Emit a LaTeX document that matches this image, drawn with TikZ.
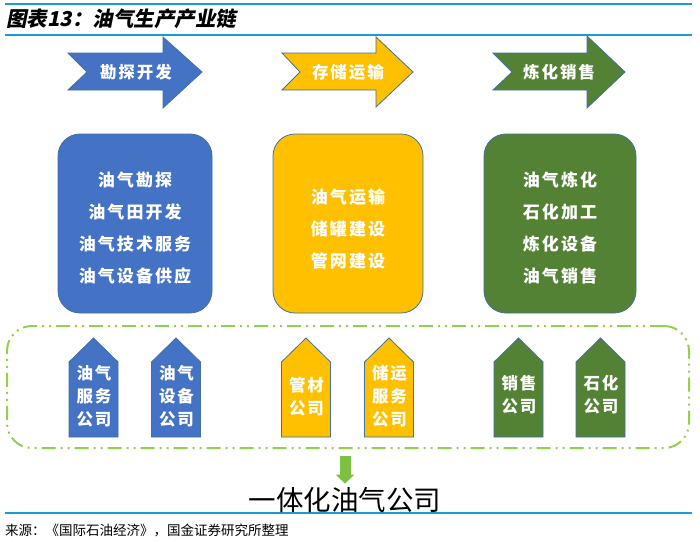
\documentclass[tikz,border=0pt]{standalone}
\usepackage{fontspec}
\newfontfamily\cjk{Noto Sans CJK SC}
\newfontfamily\cjkit{Noto Sans CJK SC}[FakeSlant=0.2]
\newfontfamily\cjkwide{Noto Sans CJK SC}[LetterSpace=12]
\usetikzlibrary{arrows.meta}
\definecolor{cblue}{HTML}{4472C4}
\definecolor{cyellow}{HTML}{FFC000}
\definecolor{cgreen}{HTML}{548235}
\definecolor{cgroup}{HTML}{92D050}
\definecolor{cdown}{HTML}{7DC142}
\definecolor{ctitle}{HTML}{1B9BD7}
\definecolor{cedge}{HTML}{41719C}
\tikzset{
  titleline/.style={draw=ctitle, line width=2pt},
  shapeedge/.style={draw=cedge, line width=0.8pt},
  arrowtext/.style={text=white, font=\cjkwide\bfseries\fontsize{16.5}{18}\selectfont, inner sep=0pt},
  boxshape/.style={shapeedge, rectangle, rounded corners=22pt, inner sep=0pt},
  boxtext/.style={text=white, align=center, font=\cjkwide\bfseries\fontsize{17}{32}\selectfont, inner sep=0pt},
  tagtext/.style={text=white, align=center, font=\cjkwide\bfseries\fontsize{16.5}{23}\selectfont, inner sep=0pt},
  groupbox/.style={draw=cgroup, line width=2pt, rounded corners=25pt, inner sep=0pt,
    dash pattern=on 14pt off 5pt on 2pt off 5pt on 2pt off 5pt},
}
\begin{document}
\begin{tikzpicture}[x=1pt,y=-1pt]
\useasboundingbox[fill=white] (0,0) rectangle (700,541);

% title and rules
\draw[titleline] (5,4) -- (692,4);
\draw[titleline] (5,35) -- (692,35);
\draw[titleline] (5,513) -- (692,513);
\node[anchor=west, inner sep=0pt, font=\cjkit\bfseries\fontsize{20.5}{22}\selectfont] (title) at (6,19) {图表13：油气生产产业链};
\node[anchor=west, inner sep=0pt, font=\cjk\fontsize{13.5}{15}\selectfont] (src) at (5,530) {来源：《国际石油经济》，国金证券研究所整理};

% stage arrows
\draw[shapeedge, fill=cblue] (68,53) -- (163,53) -- (163,37) -- (202,72) -- (163,108) -- (163,90) -- (68,90) -- (87,72) -- cycle;
\node[arrowtext] (a1) at (136,72) {勘探开发};
\draw[shapeedge, fill=cyellow] (282,53) -- (376,53) -- (376,37) -- (413,72) -- (376,107) -- (376,90) -- (282,90) -- (300,72) -- cycle;
\node[arrowtext] (a2) at (348,72) {存储运输};
\draw[shapeedge, fill=cgreen] (493,53) -- (587,53) -- (587,36) -- (625,72) -- (587,108) -- (587,90) -- (493,90) -- (512,72) -- cycle;
\node[arrowtext] (a3) at (559,72) {炼化销售};

% rounded boxes
\node[boxshape, fill=cblue, minimum width=154pt, minimum height=179pt] (b1) at (135,223.5) {};
\node[boxtext] (t1) at (135,228.5) {油气勘探\\油气田开发\\油气技术服务\\油气设备供应};
\node[boxshape, fill=cyellow, minimum width=150pt, minimum height=179pt] (b2) at (348,223.5) {};
\node[boxtext] (t2) at (348,228.5) {油气运输\\储罐建设\\管网建设};
\node[boxshape, fill=cgreen, minimum width=152pt, minimum height=179pt] (b3) at (560,223.5) {};
\node[boxtext] (t3) at (560,228.5) {油气炼化\\石化加工\\炼化设备\\油气销售};

% group box
\node[groupbox, minimum width=682pt, minimum height=122pt] (grp) at (348,387) {};

% company tags
\foreach \cx/\col in {93.5/cblue, 176/cblue, 306/cyellow, 389/cyellow, 518.5/cgreen, 600.5/cgreen}{
  \draw[shapeedge, fill=\col] (\cx-24.5,437) -- (\cx-24.5,362) -- (\cx,338) -- (\cx+24.5,362) -- (\cx+24.5,437) -- cycle;
}
\node[tagtext] (c1) at (94,396) {油气\\服务\\公司};
\node[tagtext] (c2) at (176.5,396) {油气\\设备\\公司};
\node[tagtext] (c3) at (306.5,397) {管材\\公司};
\node[tagtext] (c4) at (389.5,396) {储运\\服务\\公司};
\node[tagtext] (c5) at (519,395) {销售\\公司};
\node[tagtext] (c6) at (601,395) {石化\\公司};

% result
\node[anchor=base, inner sep=0pt, font=\cjk\fontsize{27.5}{29}\selectfont] (res) at (345,510) {一体化油气公司};
\draw[draw=cdown, line width=11pt, -{Triangle[width=18pt,length=9pt]}, shorten <=7pt, shorten >=3pt] (grp.south -| res.north) -- (res.north);
\end{tikzpicture}
\end{document}
